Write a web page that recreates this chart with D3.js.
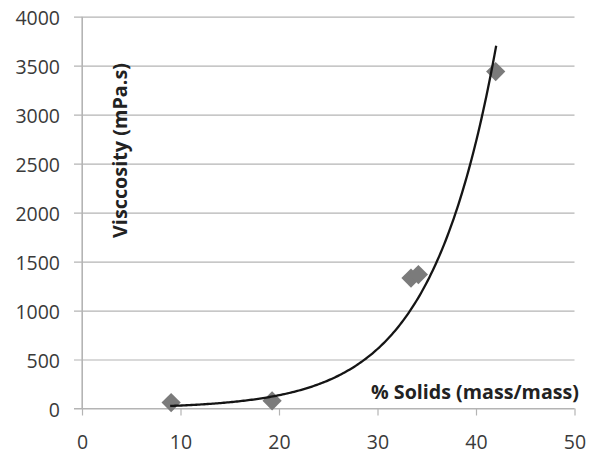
<!DOCTYPE html>
<html>
<head>
<meta charset="utf-8">
<script src="https://cdn.jsdelivr.net/npm/d3@7"></script>
<style>
  html, body { margin: 0; padding: 0; background: #fff; }
  svg { display: block; }
  text { font-family: "Open Sans", "Noto Sans", sans-serif; }
</style>
</head>
<body>
<svg id="chart" width="592" height="453"></svg>
<script>
// Measured samples: solids content vs. viscosity
const solids = [9.05, 19.3, 33.4, 34.15, 42.0];
const viscosity = [60, 78, 1332, 1367, 3440];

// Exponential trendline y = A * exp(B * x), drawn over the sampled range
const trendA = 6.75;
const trendB = 0.15;
const trendRange = [8.95, 42.05];

// Axis ticks
const xTicks = [0, 10, 20, 30, 40, 50];
const yTicks = [0, 500, 1000, 1500, 2000, 2500, 3000, 3500, 4000];

const xTitle = "% Solids (mass/mass)";
const yTitle = "Visccosity (mPa.s)";

const svg = d3.select("#chart");

const x = d3.scaleLinear().domain([0, 50]).range([82, 574.5]);
const y = d3.scaleLinear().domain([0, 4000]).range([408.5, 16.7]);

const gridColor = "#b4b4b4";
const labelColor = "#3a3a3a";

// Horizontal gridlines (extend left past the axis as tick marks)
const yAxis = d3.axisLeft(y)
  .tickValues(yTicks)
  .tickSize(-(574.5 - 82))
  .tickSizeOuter(0)
  .tickPadding(0)
  .tickFormat(d3.format("d"));

const gy = svg.append("g")
  .attr("transform", "translate(82,0)")
  .call(yAxis);
gy.select(".domain").attr("stroke", gridColor);
gy.selectAll(".tick line")
  .attr("x1", -8)
  .attr("stroke", gridColor)
  .attr("stroke-width", 1.2);
gy.selectAll(".tick text")
  .attr("x", -22)
  .attr("dy", "0.4em")
  .attr("fill", labelColor)
  .style("font-size", "19.5px");

// X axis
const xAxis = d3.axisBottom(x)
  .tickValues(xTicks)
  .tickSize(7)
  .tickSizeOuter(0)
  .tickPadding(0)
  .tickFormat(d3.format("d"));

const gx = svg.append("g")
  .attr("transform", "translate(0,408.5)")
  .call(xAxis);
gx.select(".domain")
  .attr("d", `M${x(0) - 8},0H${x(50)}`)
  .attr("stroke", gridColor)
  .attr("stroke-width", 1.2);
gx.selectAll(".tick line").attr("stroke", gridColor).attr("stroke-width", 1.2);
gx.selectAll(".tick text")
  .attr("y", 40)
  .attr("dy", 0)
  .attr("fill", labelColor)
  .style("font-size", "19.5px");

// Vertical axis line on top of the left tick stubs
svg.append("line")
  .attr("x1", x(0)).attr("x2", x(0))
  .attr("y1", y(4000)).attr("y2", y(0))
  .attr("stroke", gridColor)
  .attr("stroke-width", 1.2);

// Data points as gray diamonds
const points = solids.map((s, i) => ({ s, v: viscosity[i] }));
svg.append("g")
  .selectAll("path")
  .data(points)
  .join("path")
  .attr("d", d3.symbol(d3.symbolSquare, 185))
  .attr("transform", d => `translate(${x(d.s)},${y(d.v)}) rotate(45)`)
  .attr("fill", "#7b7b7b");

// Trendline
const trendPts = d3.range(0, 201).map(i => {
  const s = trendRange[0] + (trendRange[1] - trendRange[0]) * i / 200;
  return [s, trendA * Math.exp(trendB * s)];
});
svg.append("path")
  .datum(trendPts)
  .attr("d", d3.line().x(d => x(d[0])).y(d => y(d[1])))
  .attr("fill", "none")
  .attr("stroke", "#151515")
  .attr("stroke-width", 2.3);

// Axis titles
svg.append("text")
  .attr("x", 579)
  .attr("y", 399)
  .attr("text-anchor", "end")
  .attr("fill", "#222")
  .attr("textLength", 208)
  .attr("lengthAdjust", "spacingAndGlyphs")
  .style("font-size", "20px")
  .style("font-weight", "bold")
  .text(xTitle);

svg.append("text")
  .attr("transform", "translate(127,238) rotate(-90)")
  .attr("text-anchor", "start")
  .attr("fill", "#222")
  .attr("textLength", 175)
  .attr("lengthAdjust", "spacingAndGlyphs")
  .style("font-size", "20px")
  .style("font-weight", "bold")
  .text(yTitle);
</script>
</body>
</html>
